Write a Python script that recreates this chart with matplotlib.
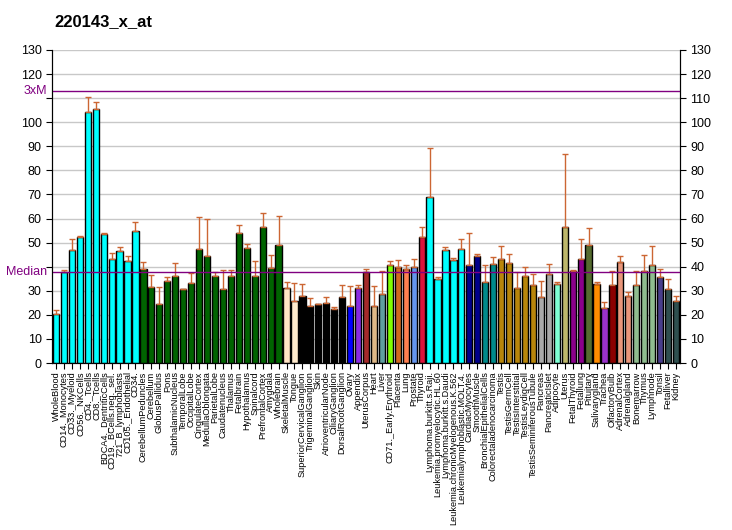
import matplotlib
matplotlib.use("Agg")
import matplotlib.pyplot as plt
import numpy as np

plt.rcParams["font.family"] = ["Liberation Sans", "DejaVu Sans"]

categories = ["WholeBlood", "CD14._Monocytes", "CD33._Myeloid", "CD56._NKCells", "CD4._Tcells",
    "CD8._Tcells", "BDCA4._DentriticCells", "CD19._BCells.neg._sel.", "721_B_lymphoblasts",
    "CD105._Endothelial", "CD34.", "CerebellumPeduncles", "Cerebellum", "GlobusPallidus", "Pons",
    "SubthalamicNucleus", "TemporalLobe", "OccipitalLobe", "CingulateCortex", "MedullaOblongata",
    "ParietalLobe", "Caudatenucleus", "Thalamus", "Fetalbrain", "Hypothalamus", "Spinalcord",
    "PrefrontalCortex", "Amygdala", "Wholebrain", "SkeletalMuscle", "Tongue",
    "SuperiorCervicalGanglion", "TrigeminalGanglion", "Skin", "AtrioventricularNode",
    "CiliaryGanglion", "DorsalRootGanglion", "Ovary", "Appendix", "UterusCorpus", "Heart", "Liver",
    "CD71._Early.Erythroid", "Placenta", "Lung", "Prostate", "Thyroid", "Lymphoma.burkitt.s.Raji.",
    "Leukemia.promyelocytic.HL.60", "Lymphoma.burkitt.s.Daudi", "Leukemia.chronicMyelogenous.K.562",
    "Leukemialymphoblastic.MOLT.4.", "CardiacMyocytes", "SmoothMuscle", "BronchialEpithelialCells",
    "Colorectaladenocarcinoma", "Testis", "TestisGermCell", "TestisInterstitial",
    "TestisLeydigCell", "TestisSeminiferousTubule", "Pancreas", "PancreaticIslet", "Adipocyte",
    "Uterus", "FetalThyroid", "Fetallung", "Pituitary", "Salivarygland", "Trachea",
    "OlfactoryBulb", "AdrenalCortex", "Adrenalgland", "Bonemarrow", "Thymus", "Lymphnode",
    "Tonsil", "Fetalliver", "Kidney"]

values = [20.2, 37.7, 46.8, 52.4, 104.2, 105.4, 53.5, 43.1, 46.4, 42.2, 54.7,
    38.9, 31.4, 24.5, 33.9, 36.0, 30.6, 33.2, 47.2, 44.5, 36.0, 30.6, 36.0, 53.9, 47.6, 36.0,
    56.4, 39.3, 48.9, 31.0, 25.6, 27.7, 23.5, 24.4, 24.8, 22.4, 27.3, 23.5, 31.0, 37.7, 23.5,
    28.5, 40.6, 39.8, 38.9, 39.8, 52.4, 68.8, 34.8, 46.8, 42.7, 47.2, 40.6, 44.3, 33.5, 41.0,
    43.1, 41.4, 31.0, 36.0, 32.3, 27.3, 36.8, 32.7, 56.4, 38.1, 43.1, 48.9, 32.7, 22.7, 32.3,
    41.8, 27.7, 32.3, 38.1, 40.6, 35.6, 30.6, 25.6]

err_top = [21.9, 38.8, 51.4, 52.8, 110.4, 108.3, 53.9, 45.6, 48.1, 44.5, 58.4,
    41.8, 36.4, 31.4, 35.6, 41.4, 30.6, 37.4, 60.5, 59.7, 37.7, 38.8, 38.8, 57.2, 49.3, 42.2,
    62.2, 44.7, 60.9, 33.5, 33.1, 32.7, 26.9, 24.4, 27.3, 23.1, 32.3, 31.9, 32.3, 38.9, 31.9,
    38.1, 42.2, 42.7, 40.6, 43.1, 56.4, 89.2, 35.6, 48.1, 43.5, 51.4, 53.9, 45.2, 40.6, 43.9,
    48.5, 45.2, 37.7, 39.8, 36.8, 33.9, 41.0, 33.5, 86.7, 38.5, 51.4, 56.0, 33.5, 25.2, 38.1,
    44.3, 29.5, 38.1, 44.7, 48.5, 38.9, 34.8, 27.7]

colors = (["#00FFFF"] * 11 + ["#006400"] * 18 + ["#FFE4C4", "#FFEBCD"] + ["#000000"] * 6 +
    ["#0000FF", "#8A2BE2", "#A52A2A", "#DEB887", "#5F9EA0", "#7FFF00", "#D2691E", "#FF7F50",
     "#6495ED", "#DC143C"] + ["#00FFFF"] * 5 + ["#00008B"] * 2 + ["#008B8B"] * 2 +
    ["#B8860B"] * 5 + ["#A9A9A9"] * 2 + ["#7FFFD4", "#BDB76B", "#8B008B", "#8B008B", "#556B2F",
     "#FF8C00", "#9932CC", "#8B0000", "#E9967A", "#E9967A", "#8FBC8F", "#8FBC8F", "#8FBC8F",
     "#483D8B", "#2F4F4F", "#2F4F4F"])

median_val = 37.7
triple_val = 113.1
yticks = list(range(0, 131, 10))

fig = plt.figure(figsize=(7.32, 5.30), dpi=100)
ax = fig.add_axes([52/732, 1 - 363/530, 628/732, 313/530])

x = np.arange(len(categories))
errs = np.array(err_top) - np.array(values)
ax.bar(x, values, width=0.78, color=colors, edgecolor="black", linewidth=1.0, zorder=3)
ax.errorbar(x, values, yerr=[np.zeros(len(values)), errs], fmt="none",
            ecolor="#CC6633", elinewidth=1.0, capsize=2.5, capthick=1.0, zorder=4)

ax.set_xlim(-0.5, len(categories) - 0.5)
ax.set_ylim(0, 130)
ax.set_yticks(yticks)
ax.set_yticklabels(["" if t in (40, 110) else str(t) for t in yticks])
ax.yaxis.grid(True, color="#C8C8C8", linewidth=1.0, zorder=0)
ax.set_axisbelow(True)
ax.axhline(median_val, color="#800080", linewidth=1.0, zorder=5)
ax.axhline(triple_val, color="#800080", linewidth=1.0, zorder=5)

ax.set_xticks(x)
ax.set_xticklabels(categories, rotation=90, fontsize=6.6)
ax.tick_params(axis="x", length=4, pad=2)
ax.tick_params(axis="y", labelsize=9, length=4)

ax2 = ax.twinx()
ax2.set_ylim(0, 130)
ax2.set_yticks(yticks)
ax2.tick_params(axis="y", labelsize=9, length=4)
for a in (ax, ax2):
    a.spines["top"].set_visible(False)

ax.text(-0.008, median_val, "Median", transform=ax.get_yaxis_transform(), color="#800080",
        fontsize=9, ha="right", va="center")
ax.text(-0.008, triple_val, "3xM", transform=ax.get_yaxis_transform(), color="#800080",
        fontsize=9, ha="right", va="center")

fig.text(54/732, 1 - 22/530, "220143_x_at", fontsize=12, fontweight="bold", ha="left", va="center")

fig.savefig("out.png", dpi=100)
